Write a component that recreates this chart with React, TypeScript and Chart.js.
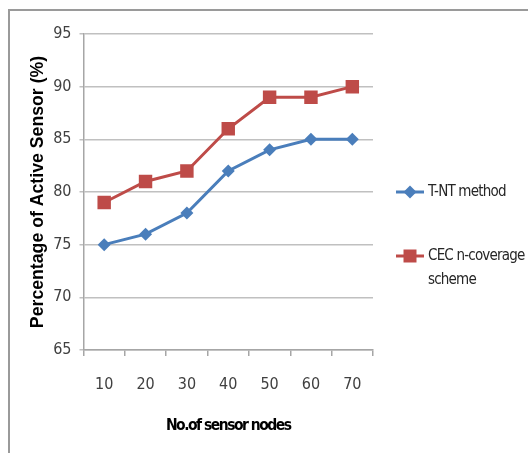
import React, { useEffect, useRef } from "react";
import { Chart, registerables } from "chart.js";

Chart.register(...registerables);

const categories = ["10", "20", "30", "40", "50", "60", "70"];
const tntValues = [75, 76, 78, 82, 84, 85, 85];
const cecValues = [79, 81, 82, 86, 89, 89, 90];
const seriesNames = ["T-NT method", ["CEC n-coverage", "scheme"]];
const xTitle = "No.of sensor nodes";
const yTitle = "Percentage of Active Sensor (%)";

const BLUE = "#4A7EBB";
const RED = "#BE4B48";
const NARROW = '"DejaVu Sans Condensed", Roboto, sans-serif';

const legendPlugin = {
  id: "customLegend",
  afterDraw(chart: any) {
    const ctx = chart.ctx;
    const area = chart.chartArea;
    const items = [
      { label: seriesNames[0], color: BLUE, style: "diamond", y: 192 },
      { label: seriesNames[1], color: RED, style: "square", y: 256 },
    ];
    ctx.save();
    for (const it of items) {
      ctx.strokeStyle = it.color;
      ctx.lineWidth = 3;
      ctx.beginPath();
      ctx.moveTo(396, it.y);
      ctx.lineTo(424, it.y);
      ctx.stroke();
      ctx.fillStyle = it.color;
      ctx.beginPath();
      if (it.style === "diamond") {
        ctx.moveTo(410, it.y - 6.5);
        ctx.lineTo(416.5, it.y);
        ctx.lineTo(410, it.y + 6.5);
        ctx.lineTo(403.5, it.y);
        ctx.closePath();
      } else {
        ctx.rect(403.5, it.y - 6.5, 13, 13);
      }
      ctx.fill();
      ctx.fillStyle = "#262626";
      ctx.font = "15px " + NARROW;
      (ctx as any).letterSpacing = "-0.8px";
      ctx.textBaseline = "middle";
      ctx.textAlign = "left";
      const lines = Array.isArray(it.label) ? it.label : [it.label];
      lines.forEach((l: string, i: number) => ctx.fillText(l, 428, it.y + i * 24));
    }
    // x axis title
    ctx.fillStyle = "#000";
    ctx.font = "bold 15.5px " + NARROW;
    (ctx as any).letterSpacing = "-1.5px";
    ctx.textAlign = "center";
    ctx.textBaseline = "middle";
    ctx.fillText(xTitle, (area.left + area.right) / 2, 426);
    (ctx as any).letterSpacing = "0px";
    ctx.restore();
  },
};

export default function App() {
  const ref = useRef<HTMLCanvasElement>(null);
  useEffect(() => {
    if (!ref.current) return;
    const chart = new Chart(ref.current, {
      type: "line",
      data: {
        labels: categories,
        datasets: [
          {
            label: "T-NT method",
            data: tntValues,
            borderColor: BLUE,
            backgroundColor: BLUE,
            borderWidth: 3,
            pointStyle: "rectRot",
            pointRadius: 6.5,
            pointBorderWidth: 0,
            tension: 0,
          },
          {
            label: "CEC n-coverage scheme",
            data: cecValues,
            borderColor: RED,
            backgroundColor: RED,
            borderWidth: 3,
            pointStyle: "rect",
            pointRadius: 9.5,
            pointBorderWidth: 0,
            tension: 0,
          },
        ],
      },
      options: {
        animation: false,
        responsive: false,
        devicePixelRatio: 1,
        layout: { padding: { left: 0, top: 34, right: 155, bottom: 0 } },
        plugins: { legend: { display: false }, tooltip: { enabled: false } },
        scales: {
          x: {
            offset: true,
            grid: {
              offset: true,
              drawOnChartArea: false,
              drawTicks: true,
              tickLength: 6,
              color: "#A6A6A6",
              lineWidth: 1.5,
            },
            border: { color: "#A6A6A6", width: 1.5 },
            ticks: { color: "#404040", font: { family: NARROW, size: 16 }, padding: 19 },
            title: { display: false },
            afterFit: (s: any) => {
              s.height = 103;
            },
          },
          y: {
            min: 65,
            max: 95,
            ticks: { stepSize: 5, color: "#404040", font: { family: NARROW, size: 16 }, padding: 8 },
            grid: { color: "#C0C0C0", lineWidth: 1.5, tickLength: 4 },
            border: { color: "#A6A6A6", width: 1.5 },
            title: {
              display: true,
              text: yTitle,
              color: "#000",
              font: { family: '"Liberation Sans", Arial, sans-serif', size: 17.7, weight: "bold" },
              padding: { top: 27, bottom: 0 },
            },
            afterFit: (s: any) => {
              s.width = 83.5;
            },
          },
        },
      },
      plugins: [legendPlugin],
    });
    return () => chart.destroy();
  }, []);
  return (
    <div style={{ position: "fixed", left: 0, top: 0, width: 528, height: 453, background: "#fff" }}>
      <canvas ref={ref} width={528} height={453} style={{ position: "absolute", left: 0, top: 0 }} />
      <div
        style={{
          position: "absolute",
          left: 8,
          top: 9,
          width: 540,
          height: 470,
          border: "2px solid #9A9A9A",
          pointerEvents: "none",
        }}
      />
    </div>
  );
}
